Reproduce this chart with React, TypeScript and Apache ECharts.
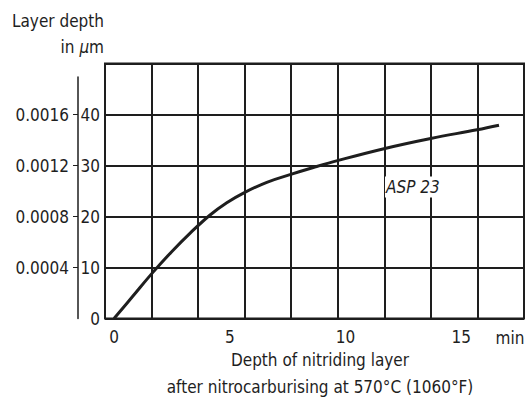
import React, { useEffect, useRef } from "react";
import * as echarts from "echarts";

// Curve: time (min) vs layer depth (µm)
const timeMin = [0, 0.8, 1.63, 2.49, 3.3, 4.15, 4.87, 5.59, 6.6, 7.6, 8.61, 9.69, 11.66, 13.68, 15.68, 16.63];
const depthUm = [0, 4.3, 8.8, 13.1, 16.8, 20.3, 22.7, 24.6, 26.7, 28.2, 29.6, 31.0, 33.3, 35.3, 37.0, 37.9];
const xTickValues = [0, 5, 10, 15];
const umTickValues = [0, 10, 20, 30, 40];
const inchTickValues = [10, 20, 30, 40];
const seriesName = "ASP 23";

const FONT = '"Liberation Sans Narrow", "DejaVu Sans Condensed", Roboto, sans-serif';
const INK = "#1e1e1e";
const FS = 17;

export default function App() {
  const ref = useRef<HTMLDivElement>(null);
  useEffect(() => {
    if (!ref.current) return;
    const chart = echarts.init(ref.current, null, { renderer: "svg" });
    const option: any = {
      animation: false,
      backgroundColor: "#ffffff",
      textStyle: { fontFamily: FONT, color: INK },
      grid: [
        { left: 105, top: 63.5, right: 3, bottom: 82.5, show: true, borderColor: INK, borderWidth: 2 },
        { left: 78, top: 77, width: 10, bottom: 82.5 },
      ],
      xAxis: [
        {
          type: "value", gridIndex: 0, min: 0, max: 9, interval: 1, position: "bottom",
          axisLine: { show: false }, axisTick: { show: false }, axisLabel: { show: false },
          splitLine: { show: true, lineStyle: { color: INK, width: 2 } },
        },
        {
          type: "value", gridIndex: 0, min: -0.39, max: 17.71, position: "bottom",
          axisLine: { show: false }, axisTick: { show: false }, splitLine: { show: false },
          axisLabel: { customValues: xTickValues, margin: 10, fontSize: FS, color: INK, fontFamily: FONT },
        },
        { type: "value", gridIndex: 1, show: false, min: 0, max: 1 },
      ],
      yAxis: [
        {
          type: "value", gridIndex: 0, min: 0, max: 50, interval: 10, position: "left",
          axisLine: { show: false }, axisTick: { show: false },
          splitLine: { show: true, lineStyle: { color: INK, width: 2 } },
          axisLabel: {
            customValues: umTickValues, margin: 5, fontSize: FS, color: INK, fontFamily: FONT,
          },
        },
        {
          type: "value", gridIndex: 1, min: 0, max: (318.5 - 77) / 5.1, position: "left",
          axisLine: { show: true, lineStyle: { color: INK, width: 1.5 } },
          axisTick: { show: true, customValues: inchTickValues, length: 5, lineStyle: { color: INK, width: 1 } },
          splitLine: { show: false },
          axisLabel: {
            customValues: inchTickValues, margin: 9, fontSize: FS, color: INK, fontFamily: FONT,
            formatter: (v: number) => (v * 0.00004).toFixed(4),
          },
        },
      ],
      series: [
        {
          name: seriesName, type: "line", xAxisIndex: 1, yAxisIndex: 0,
          data: timeMin.map((t, i) => [t, depthUm[i]]),
          smooth: 0.4, showSymbol: false, symbol: "none",
          lineStyle: { color: INK, width: 3 },
        },
      ],
      graphic: [
        { type: "text", x: 104, y: 21, style: { text: "Layer depth", font: `${FS}px ${FONT}`, fill: INK, align: "right", verticalAlign: "middle" } },
        {
          type: "text", x: 104, y: 47,
          style: {
            text: "in {i|µ}m", fill: INK, align: "right", verticalAlign: "middle",
            fontFamily: FONT, fontSize: FS,
            rich: { i: { fontStyle: "italic", fontFamily: FONT, fontSize: FS, fill: INK } },
          },
        },
        { type: "text", x: 510, y: 338, style: { text: "min", font: `${FS}px ${FONT}`, fill: INK, align: "center", verticalAlign: "middle" } },
        { type: "text", x: 320, y: 360, style: { text: "Depth of nitriding layer", font: `${FS}px ${FONT}`, fill: INK, align: "center", verticalAlign: "middle" } },
        { type: "text", x: 320, y: 387, style: { text: "after nitrocarburising at 570°C (1060°F)", font: `${FS}px ${FONT}`, fill: INK, align: "center", verticalAlign: "middle" } },
        {
          type: "text", x: 385, y: 187, z: 10,
          style: {
            text: seriesName, font: `italic ${FS}px ${FONT}`, fill: INK, align: "left", verticalAlign: "middle",
            backgroundColor: "#ffffff", padding: [2, 1, 2, 1],
          },
        },
      ],
    };
    chart.setOption(option);
    return () => chart.dispose();
  }, []);
  return <div ref={ref} style={{ width: 527, height: 401, position: "absolute", left: 0, top: 0 }} />;
}
